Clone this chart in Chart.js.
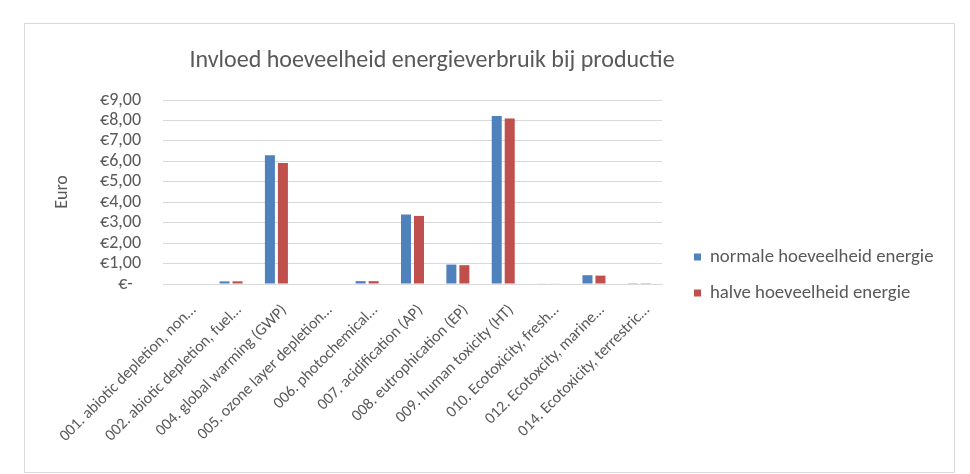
<!DOCTYPE html>
<html>
<head>
<meta charset="utf-8">
<script src="https://cdn.jsdelivr.net/npm/chart.js@4.4.1/dist/chart.umd.min.js"></script>
<style>
  html, body { margin: 0; padding: 0; background: #ffffff; }
  #wrap { position: relative; width: 970px; height: 474px; }
  #frame { position: absolute; left: 24px; top: 23px; width: 929px; height: 448px; border: 1px solid #d9d9d9; box-sizing: content-box; }
  #c { position: absolute; left: 0; top: 0; }
</style>
</head>
<body>
<div id="wrap">
  <div id="frame"></div>
  <canvas id="c" width="970" height="474"></canvas>
</div>
<script>
const chartTitle = 'Invloed hoeveelheid energieverbruik bij productie';
const yAxisTitle = 'Euro';
const categories = [
  '001. abiotic depletion, non…',
  '002. abiotic depletion, fuel…',
  '004. global warming (GWP)',
  '005. ozone layer depletion…',
  '006. photochemical…',
  '007. acidification (AP)',
  '008. eutrophication (EP)',
  '009. human toxicity (HT)',
  '010. Ecotoxicity, fresh…',
  '012. Ecotoxcity, marine…',
  '014. Ecotoxicity, terrestric…'
];
const seriesNames = ['normale hoeveelheid energie', 'halve hoeveelheid energie'];
const normaleValues = [0, 0.13, 6.30, 0, 0.14, 3.40, 0.95, 8.22, 0.02, 0.43, 0.01];
const halveValues   = [0, 0.13, 5.92, 0, 0.14, 3.33, 0.92, 8.09, 0.02, 0.41, 0.01];
const yMin = 0, yMax = 9, yStep = 1;

const FONT = 'Carlito, Calibri, Lato, sans-serif';
const TEXT = '#595959';
const GRID = '#d9d9d9';
const colors = ['#4f81bd', '#c0504d'];

const titleAndLegend = {
  id: 'titleAndLegend',
  afterDraw(chart) {
    const ctx = chart.ctx;
    ctx.save();
    ctx.fillStyle = TEXT;
    ctx.font = '24px ' + FONT;
    ctx.textAlign = 'center';
    ctx.textBaseline = 'middle';
    ctx.fillText(chartTitle, 432, 61);
    ctx.font = '18.8px ' + FONT;
    ctx.textAlign = 'left';
    const ys = [257, 293];
    chart.data.datasets.forEach((ds, i) => {
      ctx.fillStyle = ds.backgroundColor;
      ctx.fillRect(694, ys[i] - 3.5, 7, 7);
      ctx.fillStyle = TEXT;
      ctx.fillText(ds.label, 710, ys[i]);
    });
    ctx.restore();
  }
};

new Chart(document.getElementById('c'), {
  type: 'bar',
  data: {
    labels: categories,
    datasets: [
      { label: seriesNames[0], data: normaleValues, backgroundColor: colors[0] },
      { label: seriesNames[1], data: halveValues, backgroundColor: colors[1] }
    ]
  },
  options: {
    responsive: false,
    animation: false,
    devicePixelRatio: 1,
    layout: { padding: { left: 0, top: 100, right: 308, bottom: 0 } },
    datasets: { bar: { categoryPercentage: 0.573, barPercentage: 0.77 } },
    plugins: { legend: { display: false }, title: { display: false }, tooltip: { enabled: false } },
    scales: {
      x: {
        grid: { display: false, drawTicks: false },
        border: { display: true, color: GRID },
        ticks: {
          autoSkip: false, minRotation: 45, maxRotation: 45, padding: 17, labelOffset: 8,
          color: TEXT, font: { family: FONT, size: 16 }
        },
        afterFit(s) { s.height = 190; s.paddingLeft = 0; s.paddingRight = 0; }
      },
      y: {
        min: yMin, max: yMax,
        grid: { color: GRID, drawTicks: false },
        border: { display: false },
        ticks: {
          stepSize: yStep, autoSkip: false,
          padding: 22, color: TEXT, font: { family: FONT, size: 18 },
          callback(v) { return v === 0 ? '€-  ' : '€' + Number(v).toFixed(2).replace('.', ','); }
        },
        title: { display: true, text: yAxisTitle, color: TEXT, font: { family: FONT, size: 18 }, padding: { top: 52, bottom: 0 } },
        afterFit(s) { s.width = 163; }
      }
    }
  },
  plugins: [titleAndLegend]
});
</script>
</body>
</html>
